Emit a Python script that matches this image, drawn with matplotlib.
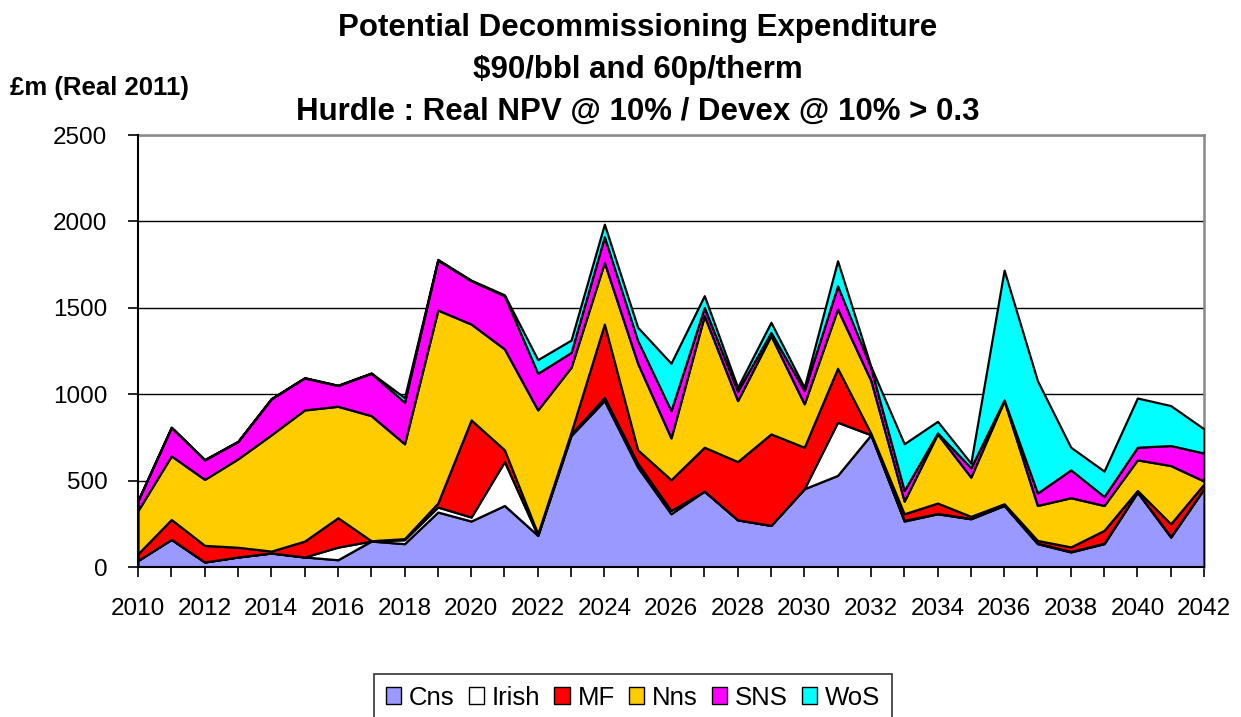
import matplotlib
matplotlib.use("Agg")
import matplotlib.pyplot as plt
import numpy as np

years = list(range(2010, 2043))
cns = [38, 160, 29, 58, 81, 58, 42, 150, 135, 318, 266, 356, 183, 761, 963, 578, 308, 439, 273, 241, 453,
       530, 765, 266, 308, 279, 356, 135, 87, 135, 433, 173, 453]
irish = [0, 0, 0, 0, 0, 0, 73, 0, 23, 29, 23, 254, 0, 9, 19, 23, 19, 0, 0, 0, 0,
         308, 0, 4, 2, 2, 2, 3, 3, 3, 2, 3, 2]
mf = [39, 115, 96, 56, 11, 92, 170, 2, 6, 23, 562, 68, 10, 10, 424, 77, 178, 254, 337, 529, 240,
      312, 9, 38, 60, 12, 8, 16, 26, 74, 8, 74, 26]
nns = [250, 368, 382, 512, 673, 759, 645, 724, 549, 1117, 555, 584, 716, 376, 356, 501, 242, 761, 353, 569, 251,
       343, 305, 73, 400, 227, 597, 202, 285, 144, 177, 337, 16]
sns_ = [58, 164, 113, 100, 208, 185, 120, 245, 240, 289, 250, 308, 212, 86, 149, 131, 158, 48, 54, 19, 77,
        134, 73, 62, 6, 54, 4, 72, 161, 52, 73, 116, 162]
wos = [0, 3, 2, 2, 2, 2, 2, 2, 27, 4, 4, 5, 79, 71, 73, 77, 274, 68, 23, 58, 19,
       145, 8, 270, 67, 27, 751, 650, 131, 147, 285, 231, 140]

labels = ["Cns", "Irish", "MF", "Nns", "SNS", "WoS"]
colors = ["#9999FF", "#FFFFFF", "#FF0000", "#FFCC00", "#FF00FF", "#00FFFF"]

plt.rcParams['font.family'] = ['Liberation Sans', 'DejaVu Sans']

W, H = 1241, 717
fig = plt.figure(figsize=(W / 100, H / 100), dpi=100)
ax = fig.add_axes([138 / W, 1 - 567 / H, (1204 - 138) / W, (567 - 135) / H])

polys = ax.stackplot(years, cns, irish, mf, nns, sns_, wos, colors=colors,
                     edgecolor="black", linewidth=1.6, labels=labels, zorder=3)

ax.set_xlim(2010, 2042)
ax.set_ylim(0, 2500)
ax.set_yticks(range(0, 2501, 500))
ax.set_xticks(years, minor=True)
ax.set_xticks(range(2010, 2043, 2))
ax.tick_params(axis='x', which='both', direction='out', length=7, width=1.2, labelsize=17.5, pad=15)
ax.tick_params(axis='y', direction='out', length=7, width=1.2, labelsize=17.5, pad=15)
ax.grid(axis='y', color='black', linewidth=1.0, zorder=1)
ax.set_axisbelow(True)
for s in ['left', 'bottom']:
    ax.spines[s].set_color('black')
    ax.spines[s].set_linewidth(1.5)
    ax.spines[s].set_zorder(5)
for s in ['top', 'right']:
    ax.spines[s].set_color('#888888')
    ax.spines[s].set_linewidth(1.8)

fig.text(638 / W, 1 - 28 / H, "Potential Decommissioning Expenditure", ha='center', va='center',
         fontsize=22.5, fontweight='bold')
fig.text(638 / W, 1 - 70 / H, "$90/bbl and 60p/therm".replace("$", r"\$"), ha='center', va='center',
         fontsize=22.5, fontweight='bold')
fig.text(638 / W, 1 - 112 / H, "Hurdle : Real NPV @ 10% / Devex @ 10% > 0.3", ha='center', va='center',
         fontsize=22.5, fontweight='bold')
fig.text(10 / W, 1 - 88 / H, "£m (Real 2011)", ha='left', va='center', fontsize=18.5, fontweight='bold')

leg = fig.legend(handles=polys, labels=labels, loc='upper center', bbox_to_anchor=(633 / W, 1 - 674 / H),
                 ncol=6, frameon=True, fancybox=False, fontsize=18.5, handlelength=0.6, handleheight=0.6,
                 handletextpad=0.3, columnspacing=0.55, borderpad=0.45, borderaxespad=0)
leg.get_frame().set_edgecolor('black')
leg.get_frame().set_linewidth(1.2)
for h in leg.legend_handles:
    h.set_linewidth(1.0)
    h.set_edgecolor('black')

fig.savefig("out.png", dpi=100)
